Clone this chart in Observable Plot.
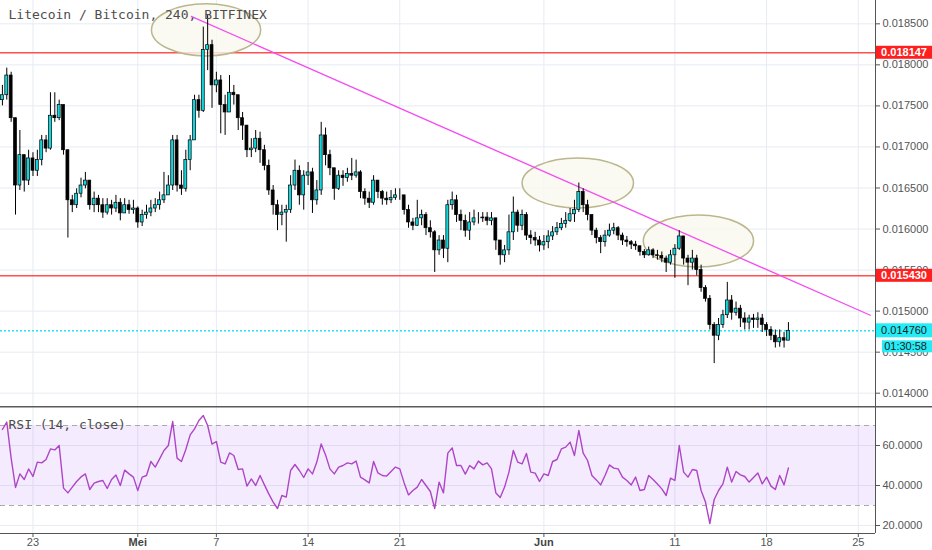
<!DOCTYPE html>
<html><head><meta charset="utf-8">
<script src="https://cdn.jsdelivr.net/npm/d3@7"></script>
<script src="https://cdn.jsdelivr.net/npm/@observablehq/plot@0.6"></script>
<style>
html,body{margin:0;padding:0;background:#fff;}
#chart{position:relative;width:932px;height:550px;overflow:hidden;background:#fff;}
#chart svg{display:block;}
</style></head><body><div id="chart"></div>
<script>
// ---- data (8-hour candles) ----
const title = "Litecoin / Bitcoin, 240, BITFINEX";
const rsiTitle = "RSI (14, close)";
const firstCandle = "2018-04-20T16:00Z";
const candleHours = 8;
const firstOpen = 0.01757;
const closes = [
0.01763,0.01787,0.01735,0.01653,0.01690,0.01659,0.01686,0.01671,0.01684,0.01708,
0.01698,0.01738,0.01735,0.01751,0.01696,0.01635,0.01629,0.01643,0.01653,0.01659,
0.01629,0.01637,0.01629,0.01620,0.01629,0.01625,0.01632,0.01619,0.01629,0.01623,
0.01625,0.01608,0.01617,0.01620,0.01625,0.01629,0.01635,0.01641,0.01653,0.01708,
0.01653,0.01649,0.01684,0.01708,0.01757,0.01744,0.01818,0.01824,0.01775,0.01781,
0.01751,0.01742,0.01766,0.01763,0.01735,0.01726,0.01696,0.01698,0.01710,0.01696,
0.01677,0.01647,0.01629,0.01617,0.01620,0.01623,0.01653,0.01671,0.01641,0.01665,
0.01669,0.01635,0.01647,0.01714,0.01690,0.01674,0.01649,0.01665,0.01662,0.01667,
0.01665,0.01669,0.01645,0.01637,0.01632,0.01659,0.01645,0.01637,0.01635,0.01638,
0.01641,0.01641,0.01623,0.01608,0.01604,0.01613,0.01617,0.01601,0.01596,0.01574,
0.01586,0.01576,0.01629,0.01635,0.01617,0.01610,0.01598,0.01608,0.01613,0.01613,
0.01614,0.01610,0.01613,0.01586,0.01568,0.01574,0.01596,0.01620,0.01604,0.01617,
0.01592,0.01589,0.01586,0.01580,0.01584,0.01591,0.01596,0.01601,0.01606,0.01610,
0.01618,0.01623,0.01645,0.01629,0.01617,0.01598,0.01589,0.01584,0.01592,0.01598,
0.01601,0.01592,0.01586,0.01584,0.01581,0.01579,0.01572,0.01568,0.01574,0.01568,
0.01567,0.01564,0.01559,0.01568,0.01576,0.01591,0.01564,0.01559,0.01564,0.01550,
0.01528,0.01515,0.01483,0.01470,0.01483,0.01495,0.01513,0.01498,0.01503,0.01491,
0.01486,0.01491,0.01489,0.01491,0.01483,0.01477,0.01470,0.01462,0.01467,0.01464,
0.01476];
const highs = [
0.01775,0.01796,0.01791,0.01735,0.01720,0.01684,0.01696,0.01693,0.01696,0.01714,
0.01714,0.01766,0.01766,0.01757,0.01751,0.01696,0.01641,0.01649,0.01662,0.01669,
0.01659,0.01645,0.01641,0.01637,0.01637,0.01635,0.01641,0.01637,0.01637,0.01635,
0.01635,0.01627,0.01623,0.01629,0.01635,0.01637,0.01645,0.01669,0.01665,0.01714,
0.01714,0.01671,0.01696,0.01714,0.01763,0.01763,0.01846,0.01860,0.01830,0.01791,
0.01787,0.01763,0.01787,0.01775,0.01763,0.01742,0.01726,0.01710,0.01720,0.01718,
0.01702,0.01684,0.01653,0.01635,0.01629,0.01629,0.01665,0.01684,0.01677,0.01671,
0.01681,0.01674,0.01659,0.01730,0.01723,0.01696,0.01674,0.01671,0.01671,0.01674,
0.01686,0.01684,0.01671,0.01649,0.01645,0.01665,0.01659,0.01647,0.01645,0.01647,
0.01649,0.01649,0.01641,0.01629,0.01613,0.01635,0.01623,0.01620,0.01610,0.01598,
0.01592,0.01592,0.01635,0.01645,0.01641,0.01623,0.01617,0.01620,0.01623,0.01620,
0.01620,0.01620,0.01620,0.01610,0.01584,0.01580,0.01617,0.01639,0.01623,0.01623,
0.01620,0.01598,0.01596,0.01591,0.01592,0.01598,0.01603,0.01608,0.01613,0.01620,
0.01625,0.01635,0.01656,0.01649,0.01635,0.01617,0.01601,0.01592,0.01598,0.01606,
0.01607,0.01603,0.01595,0.01591,0.01586,0.01585,0.01579,0.01575,0.01578,0.01576,
0.01574,0.01572,0.01567,0.01574,0.01581,0.01598,0.01586,0.01568,0.01574,0.01568,
0.01556,0.01531,0.01519,0.01486,0.01491,0.01501,0.01535,0.01519,0.01511,0.01507,
0.01498,0.01495,0.01496,0.01498,0.01496,0.01486,0.01481,0.01477,0.01477,0.01474,
0.01486];
const lows = [
0.01750,0.01757,0.01730,0.01617,0.01647,0.01645,0.01653,0.01664,0.01664,0.01677,
0.01693,0.01696,0.01730,0.01732,0.01690,0.01589,0.01620,0.01625,0.01638,0.01649,
0.01623,0.01620,0.01620,0.01613,0.01617,0.01617,0.01620,0.01610,0.01620,0.01618,
0.01618,0.01601,0.01603,0.01612,0.01615,0.01620,0.01623,0.01631,0.01641,0.01647,
0.01645,0.01641,0.01645,0.01671,0.01708,0.01735,0.01742,0.01793,0.01747,0.01766,
0.01716,0.01714,0.01744,0.01751,0.01720,0.01708,0.01687,0.01687,0.01693,0.01680,
0.01671,0.01641,0.01617,0.01598,0.01604,0.01584,0.01619,0.01647,0.01629,0.01623,
0.01653,0.01619,0.01629,0.01641,0.01677,0.01665,0.01635,0.01647,0.01652,0.01657,
0.01659,0.01662,0.01637,0.01629,0.01625,0.01629,0.01637,0.01629,0.01629,0.01631,
0.01635,0.01635,0.01617,0.01601,0.01598,0.01603,0.01604,0.01592,0.01589,0.01547,
0.01568,0.01564,0.01559,0.01623,0.01608,0.01598,0.01590,0.01586,0.01604,0.01606,
0.01608,0.01604,0.01604,0.01574,0.01556,0.01559,0.01568,0.01586,0.01596,0.01598,
0.01586,0.01581,0.01579,0.01572,0.01574,0.01576,0.01586,0.01592,0.01598,0.01601,
0.01608,0.01608,0.01620,0.01620,0.01610,0.01592,0.01582,0.01570,0.01578,0.01590,
0.01593,0.01586,0.01580,0.01578,0.01575,0.01574,0.01567,0.01564,0.01567,0.01564,
0.01562,0.01559,0.01547,0.01556,0.01540,0.01574,0.01556,0.01531,0.01550,0.01543,
0.01523,0.01511,0.01477,0.01436,0.01464,0.01479,0.01491,0.01489,0.01494,0.01480,
0.01477,0.01477,0.01479,0.01479,0.01474,0.01469,0.01464,0.01455,0.01456,0.01455,
0.01464];
const rsiValues = [
68,71.7,53.7,39,45.8,43,48.3,44.5,51.7,51.3,
53,58.3,57.8,60,38.7,36.3,39.2,42,44.3,45.8,
38,41.2,42,42.5,38.5,43,45.3,40,47.7,45.8,
44.2,37.5,44.2,45,52,49.2,53.3,57.5,60,72,
53.7,52,58,65.3,68.3,72.5,75,70,60.7,62,
51.7,50.8,56.3,55,48,48.3,39.7,43.3,40,45,
40.3,35.8,31.7,28.5,35,34.2,47.5,50.5,47.5,44,
48.3,45.8,51.7,60.8,55.3,48.3,45.8,49.2,50,51.3,
50.8,52.2,44.2,42.8,41.3,52,46.3,45,44.7,47,
49.2,48.3,41.3,35.3,37.5,39.2,43,40,37,28.5,
41.7,36.3,56.2,58.8,50,50,45.7,50,48.3,52.2,
50.3,51.3,48.3,36.3,34,39.2,46.7,57.5,51.7,50.8,
56,46.7,46.2,42,45.8,45,52,53,58.3,59.2,
61.7,55,67.5,56.2,52.5,45,42.8,40.3,45,50.3,
48.7,48.3,44.2,42.5,40.3,44.2,37.5,38,45,43,
40.7,38.3,35,43.7,42.5,60,46.7,44.2,48,47.5,
37.5,31.7,21,33,37.5,40.8,49.2,41.7,47,45.3,
44.5,41.7,44,46.2,40.8,44.2,39.7,38,45,40.3,
48.8];
const levels = [0.018147, 0.015430];
const lastPrice = 0.014760;
const countdown = "01:30:58";
const trendLine = [["2018-05-05T02:00Z", 0.01859], ["2018-06-25T22:00Z", 0.01495]];
// annotation ellipses: centre time, centre price, half-width (hours), half-height (price)
const ellipseCentres = ["2018-05-06T06:00Z", "2018-06-03T15:00Z", "2018-06-12T20:00Z"];
const ellipsePrices = [0.01842, 0.016555, 0.015849];
const ellipseHalfHours = [100, 102, 101];
const ellipseHalfPrice = [0.000317, 0.000305, 0.000317];
const priceTicks = [0.014, 0.0145, 0.015, 0.0155, 0.016, 0.0165, 0.017, 0.0175, 0.018, 0.0185];
const rsiTicks = [20, 40, 60];
const rsiBand = [30, 70];
const dateTicks = ["2018-04-23","2018-05-01","2018-05-07","2018-05-14","2018-05-21","2018-06-01","2018-06-11","2018-06-18","2018-06-25"];
const dateLabels = ["23","Mei","7","14","21","Jun","11","18","25"];
const monthLabels = ["Mei","Jun"];
const xStart = "2018-04-20T12:30Z", xEnd = "2018-06-26T07:30Z";

// ---- build ----
const H = 3600e3;
const t0 = +new Date(firstCandle);
const candles = closes.map((c, i) => {
  const open = i ? closes[i - 1] : firstOpen;
  return {date: new Date(t0 + i * candleHours * H), open, close: c,
          high: Math.max(highs[i] ?? c, open, c), low: Math.min(lows[i] ?? c, open, c)};
});
const rsi = rsiValues.map((v, i) => ({date: new Date(t0 + i * candleHours * H), rsi: v}));
const trend = trendLine.map(([d, p]) => ({date: new Date(d), price: p}));
const ticksX = dateTicks.map(d => new Date(d + "T00:00Z"));
const labelOf = new Map(ticksX.map((d, i) => [+d, dateLabels[i]]));
const xDomain = [new Date(xStart), new Date(xEnd)];
const ellipses = ellipseCentres.map((d, i) => ({date: new Date(d), price: ellipsePrices[i], hh: ellipseHalfHours[i], hp: ellipseHalfPrice[i]}));

const font = "'Liberation Sans', Arial, sans-serif";
const gridColor = "#e5ecf2";
const axisColor = "#555";
const upColor = "#12d6de";

function ellipseMark(list) {
  return (index, scales) => {
    const g = d3.create("svg:g");
    for (const e of list) {
      const cx = scales.x(e.date), cy = scales.y(e.price);
      const rx = Math.abs(scales.x(new Date(+e.date + e.hh * H)) - cx);
      const ry = Math.abs(scales.y(e.price + e.hp) - cy);
      g.append("ellipse").attr("cx", cx).attr("cy", cy).attr("rx", rx).attr("ry", ry)
        .attr("fill", "#f9f9ef").attr("fill-opacity", 0.8)
        .attr("stroke", "#bbb68c").attr("stroke-width", 1.5);
    }
    return g.node();
  };
}

function tagMark(tags) {
  return (index, scales, values, dim) => {
    const g = d3.create("svg:g").attr("font-family", font).attr("font-size", 11);
    const x0 = dim.width - dim.marginRight;
    for (const t of tags) {
      const cy = scales.y(t.price) + t.shift;
      g.append("rect").attr("x", x0 + t.inset).attr("y", cy - t.h / 2)
        .attr("width", dim.width - x0 - t.inset).attr("height", t.h).attr("fill", t.bg);
      g.append("text").attr("x", dim.width - 5).attr("y", cy).attr("dy", "0.35em")
        .attr("text-anchor", "end").attr("fill", t.fg)
        .attr("font-weight", t.bold ? "bold" : "normal").text(t.text);
    }
    return g.node();
  };
}

const tags = [
  ...levels.map(p => ({price: p, text: p.toFixed(6), bg: "#ff1f1f", fg: "#fff", bold: true, shift: 0, inset: 1, h: 13})),
  {price: lastPrice, text: lastPrice.toFixed(6), bg: "#22ecf6", fg: "#1a1a1a", bold: false, shift: 0, inset: 1, h: 14},
  {price: lastPrice, text: countdown, bg: "#22ecf6", fg: "#1a1a1a", bold: false, shift: 16, inset: 7, h: 12}
];

const up = candles.filter(d => d.close >= d.open);
const down = candles.filter(d => d.close < d.open);
const bodyX1 = d => new Date(+d.date - 2.7 * H);
const bodyX2 = d => new Date(+d.date + 2.7 * H);

const pricePlot = Plot.plot({
  width: 932, height: 406,
  marginTop: 0, marginRight: 57, marginBottom: 0, marginLeft: 0,
  style: {fontFamily: font, fontSize: "11px", color: axisColor, background: "#fff", overflow: "visible"},
  x: {type: "utc", domain: xDomain, axis: null, label: null},
  y: {domain: [0.013838, 0.018784], axis: null, label: null},
  marks: [
    Plot.gridX(ticksX, {stroke: gridColor, strokeOpacity: 1}),
    Plot.gridY(priceTicks, {stroke: gridColor, strokeOpacity: 1}),
    Plot.ruleY(levels, {stroke: "#ff4f4f", strokeWidth: 1.6}),
    ellipseMark(ellipses),
    Plot.line(trend, {x: "date", y: "price", stroke: "#f54cf0", strokeWidth: 1.3}),
    Plot.ruleY([lastPrice], {stroke: "#1fe6f2", strokeWidth: 1.4, strokeDasharray: "2,2"}),
    Plot.ruleX(candles, {x: "date", y1: "low", y2: "high", stroke: "#000", strokeWidth: 1}),
    Plot.rect(up, {x1: bodyX1, x2: bodyX2, y1: "open", y2: "close", fill: upColor, stroke: "#000", strokeWidth: 0.7}),
    Plot.rect(down, {x1: bodyX1, x2: bodyX2, y1: "open", y2: "close", fill: "#000", stroke: "#000", strokeWidth: 0.7}),
    Plot.text([title], {text: d => d, frameAnchor: "top-left", dx: 8, dy: 9, fontFamily: "DejaVu Sans Mono", fontSize: 13, fill: "#4d4d4d"}),
    Plot.ruleX([xDomain[1]], {stroke: axisColor, strokeWidth: 1}),
    Plot.axisY(priceTicks, {anchor: "right", tickSize: 4, tickPadding: 3, tickFormat: d => d.toFixed(6), fontSize: 11, label: null}),
    tagMark(tags)
  ]
});

const rsiPlot = Plot.plot({
  width: 932, height: 144,
  marginTop: 0, marginRight: 57, marginBottom: 17, marginLeft: 0,
  style: {fontFamily: font, fontSize: "11px", color: axisColor, background: "#fff", overflow: "visible"},
  x: {type: "utc", domain: xDomain, axis: null, label: null},
  y: {domain: [16, 79.5], axis: null, label: null},
  marks: [
    Plot.gridX(ticksX, {stroke: gridColor, strokeOpacity: 1}),
    Plot.gridY(rsiTicks, {stroke: gridColor, strokeOpacity: 1}),
    Plot.rect([rsiBand], {x1: () => xDomain[0], x2: () => xDomain[1], y1: d => d[0], y2: d => d[1], fill: "#a03cf5", fillOpacity: 0.1}),
    Plot.ruleY(rsiBand, {stroke: "#a9a9a9", strokeWidth: 1.2, strokeDasharray: "5,4"}),
    Plot.line(rsi, {x: "date", y: "rsi", stroke: "#ad46c6", strokeWidth: 1.4}),
    Plot.text([rsiTitle], {text: d => d, frameAnchor: "top-left", dx: 8, dy: 13, fontFamily: "DejaVu Sans Mono", fontSize: 13, fill: "#4d4d4d"}),
    Plot.ruleX([xDomain[1]], {stroke: axisColor, strokeWidth: 1}),
    Plot.ruleY([16], {stroke: axisColor, strokeWidth: 1.2}),
    Plot.axisY(rsiTicks, {anchor: "right", tickSize: 4, tickPadding: 3, tickFormat: d => d.toFixed(4), fontSize: 11, label: null}),
    Plot.axisX(ticksX, {anchor: "bottom", tickSize: 4, tickPadding: 1, tickFormat: d => labelOf.get(+d) ?? "", fontSize: 11, label: null}),
    (index, scales, values, dim) => {
      const l = d3.create("svg:line").attr("x1", 0).attr("x2", dim.width)
        .attr("y1", scales.y(79.5) + 0.75).attr("y2", scales.y(79.5) + 0.75)
        .attr("stroke", "#5a5a5a").attr("stroke-width", 1.5);
      return l.node();
    }
  ]
});

d3.select(rsiPlot).selectAll("text").filter(function () { return monthLabels.includes(this.textContent); })
  .attr("font-weight", "bold").attr("fill", "#444");

const chart = document.getElementById("chart");
chart.appendChild(pricePlot);
chart.appendChild(rsiPlot);
</script>
</body></html>
